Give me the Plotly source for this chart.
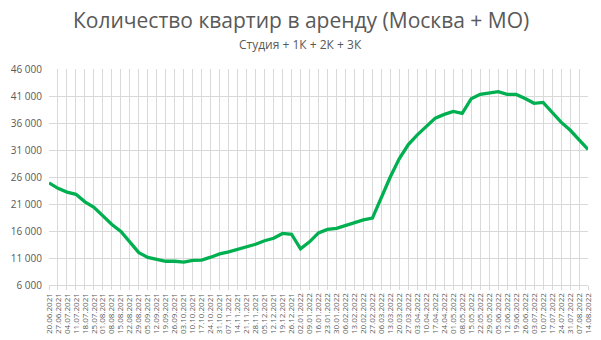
import pandas as pd
import plotly.graph_objects as go

dates = pd.date_range("2021-06-20", "2022-08-14", freq="7D").strftime("%d.%m.%Y").tolist()

values = [24900, 23900, 23200, 22800, 21400, 20400, 18800, 17200, 15900, 14000,
          12000, 11100, 10750, 10400, 10400, 10250, 10550, 10600, 11150, 11750,
          12150, 12650, 13000, 13550, 14200, 14650, 15550, 15400, 12700, 14000,
          15650, 16300, 16500, 17050, 17500, 18050, 18400, 22200, 26050, 29400,
          32000, 33800, 35450, 36900, 37600, 38150, 37800, 40500, 41300, 41500,
          41800, 41300, 41300, 40550, 39650, 39800, 37900, 36150, 34700, 33000,
          31100]

title_text = "Количество квартир в аренду (Москва + МО)"
subtitle_text = "Студия + 1К + 2К + 3К"

fig = go.Figure()
fig.add_trace(go.Scatter(x=dates, y=values, mode="lines",
                         line=dict(color="#00b050", width=3.3)))

font_family = "Open Sans, Noto Sans, sans-serif"
ML, MR, MT, MB = 49, 13, 69, 55
pw = 601 - ML - MR
ph = 340 - MT - MB
cx = (300.5 - ML) / pw
fig.update_layout(
    width=601, height=340,
    margin=dict(l=ML, r=MR, t=MT, b=MB, autoexpand=False),
    paper_bgcolor="white", plot_bgcolor="white",
    showlegend=False,
    separators=", ",
    font=dict(family=font_family, color="#595959"),
    annotations=[
        dict(text=title_text, x=cx, y=1 + (MT - 20) / ph, xref="paper", yref="paper",
             xanchor="center", yanchor="middle", showarrow=False,
             font=dict(size=21, color="#595959")),
        dict(text=subtitle_text, x=cx, y=1 + (MT - 45) / ph, xref="paper", yref="paper",
             xanchor="center", yanchor="middle", showarrow=False,
             font=dict(size=12, color="#595959")),
    ],
)

fig.update_xaxes(
    type="category",
    tickmode="array", tickvals=dates, ticktext=dates,
    tickangle=-90,
    tickfont=dict(size=8, color="#595959"),
    showgrid=True, gridcolor="#d9d9d9", gridwidth=1,
    showline=True, linecolor="#d9d9d9",
    ticks="outside", ticklen=4, tickcolor="#d9d9d9",
    range=[0, len(dates) - 1],
    automargin=False,
)
fig.update_yaxes(
    range=[6000, 46000], dtick=5000, tick0=6000,
    tickformat=",d",
    tickfont=dict(size=10, color="#595959"),
    showgrid=True, gridcolor="#d9d9d9", gridwidth=1,
    zeroline=False,
    ticks="", ticklen=0,
    ticklabelstandoff=6,
    automargin=False,
)

fig.write_html("out.html")
